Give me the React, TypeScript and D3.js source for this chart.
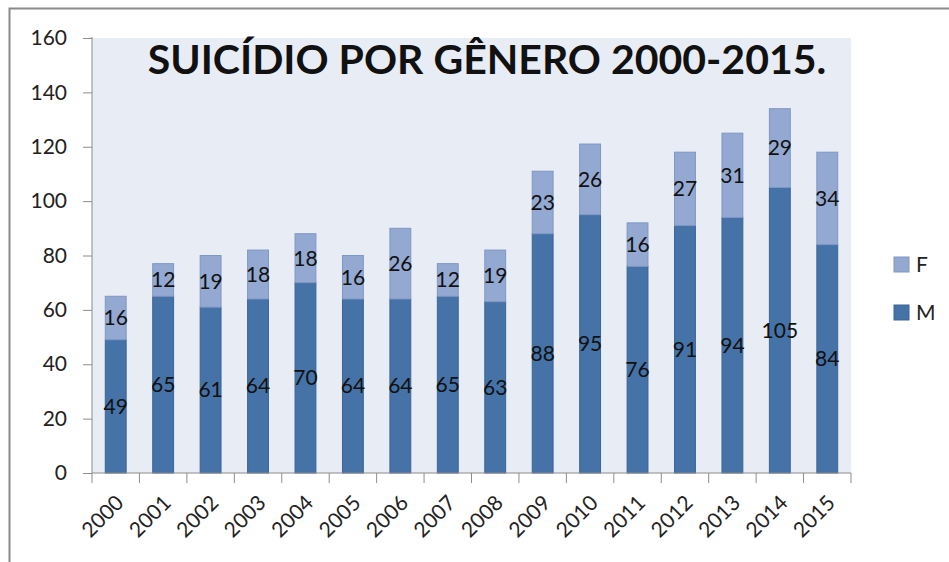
import React, { useRef, useEffect } from "react";
import * as d3 from "d3";

const years = ["2000", "2001", "2002", "2003", "2004", "2005", "2006", "2007", "2008", "2009", "2010", "2011", "2012", "2013", "2014", "2015"];
const male = [49, 65, 61, 64, 70, 64, 64, 65, 63, 88, 95, 76, 91, 94, 105, 84];
const female = [16, 12, 19, 18, 18, 16, 26, 12, 19, 23, 26, 16, 27, 31, 29, 34];
const yTicks = [0, 20, 40, 60, 80, 100, 120, 140, 160];
const seriesNames = ["M", "F"];

const W = 949;
const H = 562;
const FONT = "Lato, 'Open Sans', sans-serif";
const colors: Record<string, string> = { M: "#4572a7", F: "#93a9d2" };
const strokes: Record<string, string> = { M: "#3b6596", F: "#7f97c4" };

const App = () => {
  const svgRef = useRef<SVGSVGElement>(null);

  useEffect(() => {
    const svg = d3.select(svgRef.current);
    svg.selectAll("*").remove();

    const left = 92, right = 851, top = 38, bottom = 473;

    const x = d3.scaleBand().domain(years).range([left, right]).paddingInner(0.56).paddingOuter(0.28);
    const y = d3.scaleLinear().domain([0, 160]).range([bottom, top]);

    // outer frame
    svg.append("rect").attr("x", 0).attr("y", 0).attr("width", W).attr("height", H).attr("fill", "#fff");
    svg.append("path").attr("d", `M9.5,${H} V8.5 H${W}`).attr("fill", "none").attr("stroke", "#8a8a8a").attr("stroke-width", 2);

    // plot background
    svg.append("rect").attr("x", left).attr("y", top).attr("width", right - left).attr("height", bottom - top).attr("fill", "#e8ecf4");

    const rows = years.map((yr, i) => ({ year: yr, M: male[i], F: female[i] }));
    const stacked = d3.stack<any>().keys(seriesNames)(rows);

    const g = svg.append("g");
    stacked.forEach((s) => {
      const key = s.key;
      g.selectAll(`.bar-${key}`)
        .data(s)
        .enter()
        .append("rect")
        .attr("x", (d: any) => x(d.data.year)!)
        .attr("y", (d: any) => y(d[1]))
        .attr("width", x.bandwidth())
        .attr("height", (d: any) => y(d[0]) - y(d[1]))
        .attr("fill", colors[key])
        .attr("stroke", strokes[key])
        .attr("stroke-width", 1);
    });

    // data labels
    stacked.forEach((s) => {
      g.selectAll(`.lab-${s.key}`)
        .data(s)
        .enter()
        .append("text")
        .attr("x", (d: any) => x(d.data.year)! + x.bandwidth() / 2)
        .attr("y", (d: any) => y((d[0] + d[1]) / 2))
        .attr("dy", "0.35em")
        .attr("text-anchor", "middle")
        .attr("font-family", FONT)
        .attr("font-size", 21)
        .attr("fill", "#111")
        .text((d: any) => d.data[s.key]);
    });

    // y axis
    const yAxis = svg.append("g").attr("transform", `translate(${left},0)`)
      .call(d3.axisLeft(y).tickValues(yTicks).tickSize(9).tickPadding(16));
    yAxis.attr("font-size", null).attr("font-family", null);
    yAxis.selectAll("path, line").attr("stroke", "#8c8c8c");
    yAxis.select(".domain").attr("d", `M0,${bottom}V${top - 1}`);
    yAxis.selectAll("text").attr("font-family", FONT).attr("font-size", 21).attr("fill", "#222");

    // x axis
    const xAxis = svg.append("g").attr("transform", `translate(0,${bottom})`);
    xAxis.append("line").attr("x1", left).attr("x2", right).attr("stroke", "#8c8c8c");
    const bounds = d3.range(years.length + 1).map((i) => left + i * ((right - left) / years.length));
    xAxis.selectAll(".tk").data(bounds).enter().append("line")
      .attr("x1", (d) => d).attr("x2", (d) => d).attr("y1", 0).attr("y2", 10).attr("stroke", "#8c8c8c");
    xAxis.selectAll(".xl").data(years).enter().append("text")
      .attr("transform", (d) => `translate(${x(d)! + x.bandwidth() / 2 + 4},${26}) rotate(-45)`)
      .attr("text-anchor", "end")
      .attr("dy", "0.35em")
      .attr("font-family", FONT)
      .attr("font-size", 21)
      .attr("fill", "#222")
      .text((d) => d);

    // title
    svg.append("text")
      .attr("x", 487).attr("y", 74)
      .attr("text-anchor", "middle")
      .attr("font-family", FONT)
      .attr("font-weight", "bold")
      .attr("font-size", 41)
      .attr("fill", "#111")
      .text("SUICÍDIO POR GÊNERO 2000-2015.");

    // legend
    const legend = svg.append("g").attr("transform", "translate(894,257)");
    ["F", "M"].forEach((k, i) => {
      const lg = legend.append("g").attr("transform", `translate(0,${i * 48})`);
      lg.append("rect").attr("width", 15).attr("height", 15).attr("fill", colors[k]).attr("stroke", strokes[k]);
      lg.append("text").attr("x", 22).attr("y", 8).attr("dy", "0.35em")
        .attr("font-family", FONT).attr("font-size", 21).attr("fill", "#222").text(k);
    });
  }, []);

  return (
    <svg ref={svgRef} width={W} height={H} style={{ position: "absolute", left: 0, top: 0, display: "block" }} />
  );
};

export default App;
